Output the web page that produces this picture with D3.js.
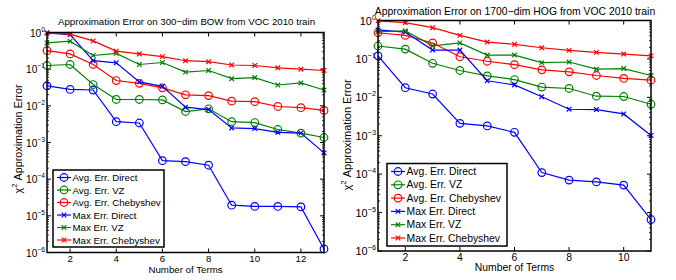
<!DOCTYPE html>
<html>
<head>
<meta charset="utf-8">
<script src="https://cdn.jsdelivr.net/npm/d3@7"></script>
<style>
  body { margin: 0; background: #fff; }
  svg text { font-family: "Liberation Sans", Arial, sans-serif; fill: #000; }
</style>
</head>
<body>
<div id="chart"></div>
<script>
// ---- data ----
var seriesNames = ['Avg. Err. Direct', 'Avg. Err. VZ', 'Avg. Err. Chebyshev',
                   'Max Err. Direct', 'Max Err. VZ', 'Max Err. Chebyshev'];
var seriesColors = ['#0000ff', '#008000', '#ff0000', '#0000ff', '#008000', '#ff0000'];
var seriesMarkers = ['o', 'o', 'o', 'x', 'x', 'x'];

var bowTerms = [1, 2, 3, 4, 5, 6, 7, 8, 9, 10, 11, 12, 13];
var bowAvgDirect = [0.035, 0.028, 0.027, 0.0037, 0.0034, 3.2e-4, 3.0e-4, 2.4e-4, 1.95e-5, 1.8e-5, 1.8e-5, 1.75e-5, 1.25e-6];
var bowAvgVZ     = [0.126, 0.134, 0.038, 0.0149, 0.0149, 0.0145, 0.0070, 0.0083, 0.0037, 0.0035, 0.00226, 0.0018, 0.00137];
var bowAvgCheb   = [0.32, 0.26, 0.134, 0.049, 0.041, 0.031, 0.020, 0.019, 0.0134, 0.013, 0.0096, 0.0089, 0.0075];
var bowMaxDirect = [0.97, 0.88, 0.17, 0.149, 0.045, 0.034, 0.0092, 0.0079, 0.0025, 0.0024, 0.0019, 0.0018, 5.2e-4];
var bowMaxVZ     = [0.52, 0.58, 0.236, 0.27, 0.134, 0.152, 0.083, 0.092, 0.055, 0.059, 0.037, 0.042, 0.027];
var bowMaxCheb   = [0.98, 0.9, 0.59, 0.31, 0.26, 0.22, 0.17, 0.16, 0.13, 0.126, 0.109, 0.1, 0.092];

var hogTerms = [1, 2, 3, 4, 5, 6, 7, 8, 9, 10, 11];
var hogAvgDirect = [0.12, 0.0178, 0.0122, 0.0021, 0.0018, 0.00123, 1.1e-4, 7.0e-5, 6.3e-5, 5.2e-5, 6.6e-6];
var hogAvgVZ     = [0.217, 0.18, 0.077, 0.05, 0.036, 0.029, 0.0185, 0.017, 0.0107, 0.0105, 0.0066];
var hogAvgCheb   = [0.48, 0.41, 0.26, 0.114, 0.087, 0.071, 0.052, 0.046, 0.037, 0.031, 0.028];
var hogMaxDirect = [0.57, 0.5, 0.17, 0.17, 0.027, 0.021, 0.0104, 0.0049, 0.0048, 0.0037, 0.00102];
var hogMaxVZ     = [0.51, 0.54, 0.22, 0.26, 0.126, 0.126, 0.08, 0.083, 0.054, 0.056, 0.037];
var hogMaxCheb   = [0.98, 0.88, 0.65, 0.41, 0.275, 0.24, 0.195, 0.167, 0.148, 0.134, 0.12];

var yTicks = [1, 1e-1, 1e-2, 1e-3, 1e-4, 1e-5, 1e-6];
var bowXTicks = [2, 4, 6, 8, 10, 12];
var hogXTicks = [2, 4, 6, 8, 10];

var W = 676, H = 280;
var svg = d3.select('#chart').append('svg')
    .attr('width', W)
    .attr('height', H);

function drawPanel(opt) {
    var x = d3.scaleLinear().domain(opt.xDomain).range([opt.left, opt.right]);
    var y = d3.scaleLog().domain([1, 1e-6]).range([opt.top, opt.bottom]);
    var g = svg.append('g');
    var fs = opt.font;

    // minor ticks on log axes (both sides, inside)
    var minor = [];
    for (var e = -6; e < 0; e++) {
        for (var m = 2; m < 10; m++) minor.push(m * Math.pow(10, e));
    }
    g.selectAll('line.minor').data(minor).enter().append('line')
        .attr('x1', opt.left).attr('x2', opt.left + 2)
        .attr('y1', function(d) { return y(d); }).attr('y2', function(d) { return y(d); })
        .attr('stroke', '#000').attr('stroke-width', 0.8);
    g.selectAll('line.minorR').data(minor).enter().append('line')
        .attr('x1', opt.right).attr('x2', opt.right - 2)
        .attr('y1', function(d) { return y(d); }).attr('y2', function(d) { return y(d); })
        .attr('stroke', '#000').attr('stroke-width', 0.8);

    // major y ticks
    yTicks.forEach(function(t) {
        g.append('line').attr('x1', opt.left).attr('x2', opt.left + 4)
            .attr('y1', y(t)).attr('y2', y(t)).attr('stroke', '#000');
        g.append('line').attr('x1', opt.right).attr('x2', opt.right - 4)
            .attr('y1', y(t)).attr('y2', y(t)).attr('stroke', '#000');
        var exp = Math.round(Math.log10(t));
        var lab = g.append('text')
            .attr('x', opt.left - 2).attr('y', y(t) + 4)
            .attr('text-anchor', 'end')
            .style('font-size', (fs + 0.5) + 'px');
        lab.append('tspan').text('10');
        lab.append('tspan').attr('dy', -5).style('font-size', (fs - 3) + 'px')
            .text(exp === 0 ? '0' : '\u2212' + (-exp));
    });

    // x ticks
    opt.xTicks.forEach(function(t) {
        g.append('line').attr('x1', x(t)).attr('x2', x(t))
            .attr('y1', opt.bottom).attr('y2', opt.bottom - 4).attr('stroke', '#000');
        g.append('line').attr('x1', x(t)).attr('x2', x(t))
            .attr('y1', opt.top).attr('y2', opt.top + 4).attr('stroke', '#000');
        g.append('text').attr('x', x(t)).attr('y', opt.bottom + 9.5)
            .attr('text-anchor', 'middle')
            .style('font-size', fs + 'px')
            .text(t);
    });

    // series
    opt.series.forEach(function(vals, k) {
        var pts = vals.map(function(v, i) { return [opt.terms[i], v]; });
        var line = d3.line()
            .x(function(d) { return x(d[0]); })
            .y(function(d) { return y(d[1]); });
        g.append('path').datum(pts)
            .attr('d', line)
            .attr('fill', 'none')
            .attr('stroke', seriesColors[k])
            .attr('stroke-width', 1.2);
        pts.forEach(function(d) {
            drawMarker(g, x(d[0]), y(d[1]), seriesMarkers[k], seriesColors[k]);
        });
    });

    // frame
    g.append('rect')
        .attr('x', opt.left).attr('y', opt.top)
        .attr('width', opt.right - opt.left).attr('height', opt.bottom - opt.top)
        .attr('fill', 'none').attr('stroke', '#000').attr('stroke-width', 1.5);

    // title, axis labels
    g.append('text').attr('x', opt.titleX).attr('y', opt.titleY)
        .attr('text-anchor', 'middle')
        .style('font-size', fs + 'px')
        .text(opt.title);
    g.append('text').attr('x', (opt.left + opt.right) / 2).attr('y', opt.bottom + 20)
        .attr('text-anchor', 'middle')
        .style('font-size', fs + 'px')
        .text('Number of Terms');
    var yl = g.append('text')
        .attr('transform', 'translate(' + opt.yLabelX + ',' + opt.yLabelY + ') rotate(-90)')
        .attr('text-anchor', 'middle')
        .style('font-size', opt.yLabelFont + 'px');
    yl.append('tspan').text('\u03c7');
    yl.append('tspan').attr('dy', -5).style('font-size', (opt.yLabelFont - 3) + 'px').text('2');
    yl.append('tspan').attr('dy', 5).text(' Approximation Error');

    // legend
    var lg = g.append('g');
    lg.append('rect')
        .attr('x', opt.legend.x).attr('y', opt.legend.y)
        .attr('width', opt.legend.w).attr('height', opt.legend.h)
        .attr('fill', '#fff').attr('stroke', '#000').attr('stroke-width', 1.5);
    seriesNames.forEach(function(name, k) {
        var ly = opt.legend.y + opt.legend.first + k * opt.legend.step;
        var lx = opt.legend.x + 4;
        lg.append('line').attr('x1', lx).attr('x2', lx + 14)
            .attr('y1', ly).attr('y2', ly)
            .attr('stroke', seriesColors[k]).attr('stroke-width', 1.2);
        drawMarker(lg, lx + 7, ly, seriesMarkers[k], seriesColors[k]);
        lg.append('text').attr('x', lx + 15.5).attr('y', ly + 3.6)
            .style('font-size', fs + 'px')
            .text(name);
    });
}

function drawMarker(g, cx, cy, type, color) {
    if (type === 'o') {
        g.append('circle').attr('cx', cx).attr('cy', cy).attr('r', 3.8)
            .attr('fill', 'none').attr('stroke', color).attr('stroke-width', 1.2);
    } else {
        var s = 2.3;
        g.append('path')
            .attr('d', 'M' + (cx - s) + ',' + (cy - s) + 'L' + (cx + s) + ',' + (cy + s) +
                       'M' + (cx - s) + ',' + (cy + s) + 'L' + (cx + s) + ',' + (cy - s))
            .attr('stroke', color).attr('stroke-width', 1.2);
    }
}

drawPanel({
    title: 'Approximation Error on 300\u2212dim BOW from VOC 2010 train',
    terms: bowTerms,
    series: [bowAvgDirect, bowAvgVZ, bowAvgCheb, bowMaxDirect, bowMaxVZ, bowMaxCheb],
    xDomain: [1, 13], xTicks: bowXTicks,
    left: 47, right: 324, top: 32.5, bottom: 252.5,
    titleX: 186.5, titleY: 24.5, font: 9.7,
    yLabelX: 22, yLabelY: 139, yLabelFont: 10.8,
    legend: { x: 53, y: 170, w: 111, h: 77, first: 7.5, step: 12.5 }
});

drawPanel({
    title: 'Approximation Error on 1700\u2212dim HOG from VOC 2010 train',
    terms: hogTerms,
    series: [hogAvgDirect, hogAvgVZ, hogAvgCheb, hogMaxDirect, hogMaxVZ, hogMaxCheb],
    xDomain: [1, 11], xTicks: hogXTicks,
    left: 378, right: 651, top: 20.5, bottom: 251,
    titleX: 515, titleY: 14.5, font: 10.4,
    yLabelX: 351, yLabelY: 135, yLabelFont: 11,
    legend: { x: 387, y: 163.5, w: 120, h: 82.5, first: 8, step: 13.3 }
});
</script>
</body>
</html>
